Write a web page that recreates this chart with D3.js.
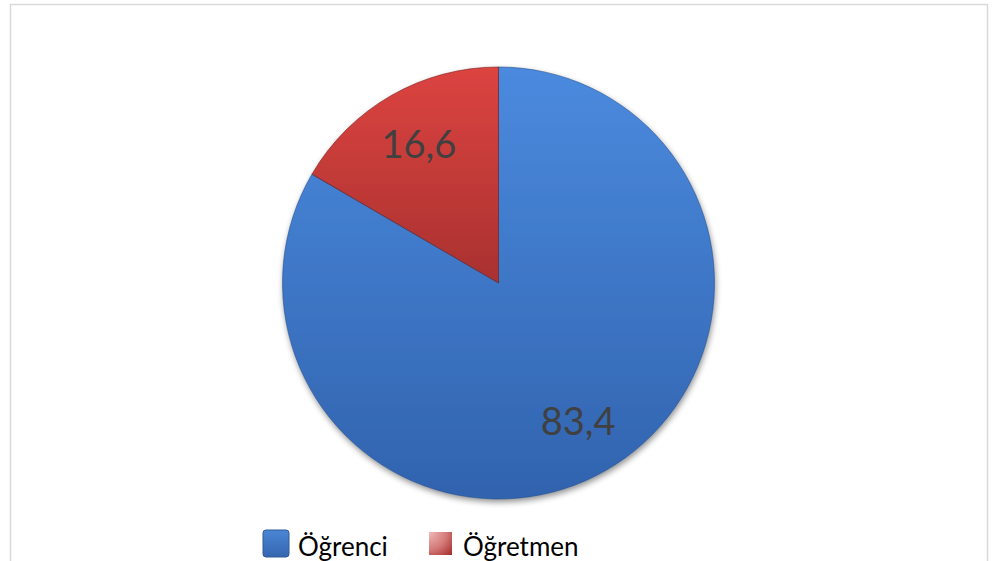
<!DOCTYPE html>
<html>
<head>
<meta charset="utf-8">
<script src="https://cdn.jsdelivr.net/npm/d3@7"></script>
<style>
  html, body { margin: 0; padding: 0; background: #ffffff; }
  svg { display: block; }
</style>
</head>
<body>
<svg id="chart" width="993" height="561"></svg>
<script>
// ---- data ----
const categories = ["Öğrenci", "Öğretmen"];
const values = [83.4, 16.6];
const labels = ["83,4", "16,6"];

// ---- layout ----
const W = 993, H = 561;
const cx = 498.5, cy = 283, R = 216;

const svg = d3.select("#chart");
const defs = svg.append("defs");

// gradients
const gBlue = defs.append("linearGradient").attr("id", "gBlue")
  .attr("x1", 0).attr("y1", 0).attr("x2", 0).attr("y2", 1);
gBlue.append("stop").attr("offset", "0%").attr("stop-color", "#4b8ade");
gBlue.append("stop").attr("offset", "100%").attr("stop-color", "#3163ae");

const gRed = defs.append("linearGradient").attr("id", "gRed")
  .attr("x1", 0).attr("y1", 0).attr("x2", 0).attr("y2", 1);
gRed.append("stop").attr("offset", "0%").attr("stop-color", "#dc4440");
gRed.append("stop").attr("offset", "100%").attr("stop-color", "#a93130");

const gLegBlue = defs.append("linearGradient").attr("id", "gLegBlue")
  .attr("x1", 0).attr("y1", 0).attr("x2", 0).attr("y2", 1);
gLegBlue.append("stop").attr("offset", "0%").attr("stop-color", "#4a86d6");
gLegBlue.append("stop").attr("offset", "100%").attr("stop-color", "#3566b0");

const gLegRed = defs.append("radialGradient").attr("id", "gLegRed")
  .attr("cx", "0%").attr("cy", "0%").attr("r", "140%");
gLegRed.append("stop").attr("offset", "0%").attr("stop-color", "#f1b9b8");
gLegRed.append("stop").attr("offset", "55%").attr("stop-color", "#d27a78");
gLegRed.append("stop").attr("offset", "100%").attr("stop-color", "#a52b2a");

const shadow = defs.append("filter").attr("id", "shadow")
  .attr("x", "-10%").attr("y", "-10%").attr("width", "130%").attr("height", "130%");
shadow.append("feGaussianBlur").attr("in", "SourceAlpha").attr("stdDeviation", 3);
shadow.append("feOffset").attr("dx", 1).attr("dy", 3).attr("result", "ob");
shadow.append("feComponentTransfer").append("feFuncA").attr("type", "linear").attr("slope", 0.45);
const fm = shadow.append("feMerge");
fm.append("feMergeNode");
fm.append("feMergeNode").attr("in", "SourceGraphic");

// border
svg.append("rect")
  .attr("x", 10.5).attr("y", 4.5).attr("width", 977).attr("height", 620)
  .attr("fill", "#ffffff").attr("stroke", "#d9d9d9").attr("stroke-width", 1.5);

// pie
const color = d3.scaleOrdinal().domain(categories).range(["url(#gBlue)", "url(#gRed)"]);
const hiColor = d3.scaleOrdinal().domain(categories).range(["#6ea3ea", "#ea6a66"]);
const edgeColor = d3.scaleOrdinal().domain(categories).range(["#27508c", "#7a1f1e"]);

const pie = d3.pie().sort(null).value(d => d.value);
const arcs = pie(categories.map((c, i) => ({ cat: c, value: values[i], label: labels[i] })));
const arc = d3.arc().innerRadius(0).outerRadius(R);

const g = svg.append("g").attr("transform", `translate(${cx},${cy})`);
const gs = g.append("g").attr("filter", "url(#shadow)");

arcs.forEach((d, i) => {
  const id = "clip" + i;
  defs.append("clipPath").attr("id", id).append("path").attr("d", arc(d))
    .attr("transform", `translate(${cx},${cy})`);
});

gs.selectAll("path.slice").data(arcs).join("path")
  .attr("class", "slice")
  .attr("d", arc)
  .attr("fill", d => color(d.data.cat));

// bevel highlight inside each slice
const bevel = svg.append("g");
arcs.forEach((d, i) => {
  bevel.append("path")
    .attr("d", arc(d))
    .attr("transform", `translate(${cx},${cy})`)
    .attr("clip-path", `url(#clip${i})`)
    .attr("fill", "none")
    .attr("stroke", hiColor(d.data.cat))
    .attr("stroke-opacity", 0.55)
    .attr("stroke-width", 7)
    .attr("stroke-linejoin", "round");
  bevel.append("path")
    .attr("d", arc(d))
    .attr("transform", `translate(${cx},${cy})`)
    .attr("fill", "none")
    .attr("stroke", edgeColor(d.data.cat))
    .attr("stroke-opacity", 0.6)
    .attr("stroke-width", 1);
});

// labels
const labelArc = d3.arc().innerRadius(R * 0.74).outerRadius(R * 0.74);
g.selectAll("text.lbl").data(arcs).join("text")
  .attr("class", "lbl")
  .attr("transform", d => {
    const [x, y] = labelArc.centroid(d);
    return `translate(${x},${y})`;
  })
  .attr("text-anchor", "middle")
  .attr("dy", "0.35em")
  .attr("font-family", "Lato, 'Open Sans', sans-serif")
  .attr("font-size", 38)
  .attr("fill", "#404040")
  .text(d => d.data.label);

// legend
const legX = d3.scalePoint().domain(categories).range([263, 429]);
const leg = svg.append("g");
const legFill = d3.scaleOrdinal().domain(categories).range(["url(#gLegBlue)", "url(#gLegRed)"]);
const legRound = d3.scaleOrdinal().domain(categories).range([3, 0]);
const legItems = leg.selectAll("g").data(categories).join("g")
  .attr("transform", c => `translate(${legX(c)},530)`);
legItems.append("rect")
  .attr("width", c => c === categories[0] ? 26 : 23)
  .attr("height", c => c === categories[0] ? 27 : 23)
  .attr("y", c => c === categories[0] ? 0 : 2)
  .attr("rx", c => legRound(c))
  .attr("fill", c => legFill(c))
  .attr("stroke", c => c === categories[0] ? "#2f5a98" : "none")
  .attr("stroke-width", 1);
legItems.append("text")
  .attr("x", c => c === categories[0] ? 35 : 34)
  .attr("y", 26)
  .attr("font-family", "Lato, 'Open Sans', sans-serif")
  .attr("font-size", 26)
  .attr("fill", "#000000")
  .text(c => c);
</script>
</body>
</html>
